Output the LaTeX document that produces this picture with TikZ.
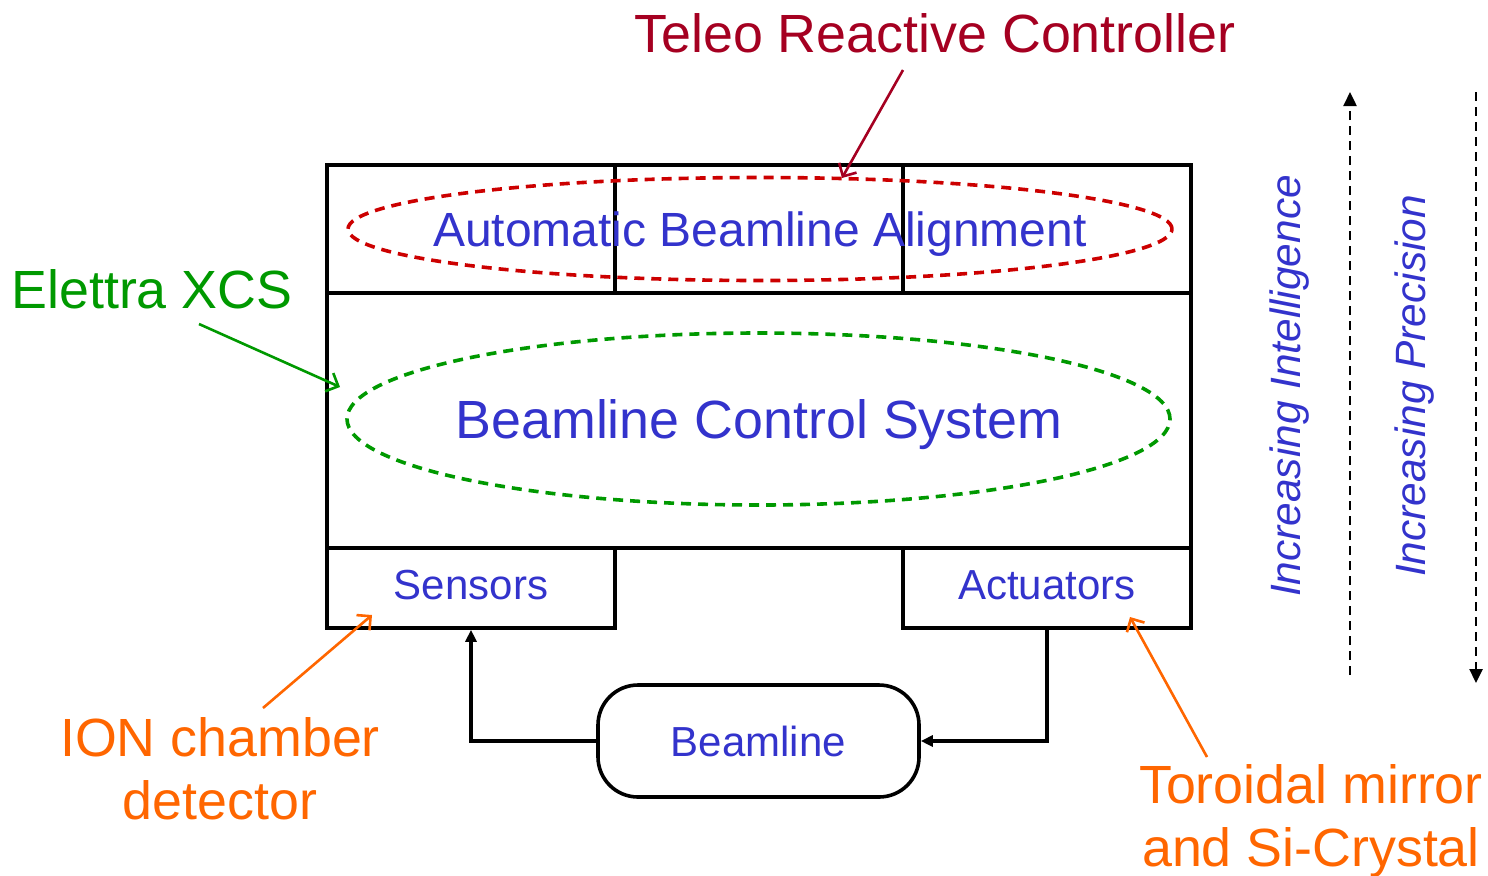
\documentclass[tikz,border=0pt]{standalone}
\usepackage{fontspec}
\setmainfont{Liberation Sans}
\usetikzlibrary{arrows.meta,shapes.geometric}
\definecolor{tblue}{HTML}{3333CC}
\definecolor{tcrim}{HTML}{A50021}
\definecolor{tred}{HTML}{CC0000}
\definecolor{tgreen}{HTML}{009900}
\definecolor{torange}{HTML}{FF6600}
\begin{document}
\begin{tikzpicture}[x=0.5pt,y=-0.5pt,
  cell/.style={draw, line width=1.8pt, inner sep=0pt, minimum width=144pt, minimum height=64pt},
  smallbox/.style={draw, line width=1.8pt, inner sep=0pt, minimum width=144pt, minimum height=40pt, text=tblue, font=\fontsize{21pt}{24pt}\selectfont},
  bigtxt/.style={font=\fontsize{26.9pt}{31pt}\selectfont, inner sep=0pt},
  midtxt/.style={font=\fontsize{24pt}{28pt}\selectfont, inner sep=0pt, text=tblue},
  sidetxt/.style={font=\fontsize{21.2pt}{25pt}\itshape\selectfont, inner sep=0pt, text=tblue, rotate=90},
  oval/.style={draw, ellipse, line width=1.8pt, dash pattern=on 5pt off 3.5pt, inner sep=0pt},
  callout/.style={line width=1.3pt, -{Straight Barb[length=5pt,width=10pt,line width=1.3pt]}},
  flow/.style={line width=1.6pt, -{Triangle[length=6pt,width=5.5pt]}},
  trend/.style={line width=1.2pt, dash pattern=on 4.5pt off 3pt, -{Triangle[length=7pt,width=6.5pt]}}
]
\useasboundingbox (0,0) rectangle (1488,875);

% top row cells
\node[cell] (c1) at (471,229) {};
\node[cell] (c2) at (759,229) {};
\node[cell] (c3) at (1047,229) {};
% middle block
\node[draw, line width=1.8pt, inner sep=0pt, minimum width=432pt, minimum height=127.5pt] (bcs) at (759,420.5) {};
% bottom boxes
\node[smallbox] (sens) at (471,588) {\raisebox{3pt}{Sensors}};
\node[smallbox] (act) at (1047,588) {\raisebox{3pt}{Actuators}};
\node[draw, line width=1.8pt, rounded corners=20pt, inner sep=0pt, minimum width=160.5pt, minimum height=56pt, text=tblue, font=\fontsize{21pt}{24pt}\selectfont] (beam) at (758.5,741) {Beamline};

% ellipses
\node[oval, draw=tred, minimum width=412pt, minimum height=51.5pt] (redov) at (760,229) {};
\node[oval, draw=tgreen, minimum width=411.5pt, minimum height=86pt] (greenov) at (758.5,419) {};

% main texts
\node[midtxt] (aba) at (760,234) {Automatic Beamline Alignment};
\node[bigtxt, text=tblue] (bcstxt) at (759,425) {Beamline Control System};

% labels
\node[bigtxt, text=tcrim] (teleo) at (935,33) {Teleo Reactive Controller};
\node[bigtxt, text=tgreen, anchor=west] (elettra) at (11,289) {Elettra XCS};
\node[bigtxt, text=torange, align=center, font=\fontsize{26.9pt}{31.5pt}\selectfont] (ion) at (220,769) {ION chamber\\detector};
\node[bigtxt, text=torange, align=center, font=\fontsize{26.9pt}{31.5pt}\selectfont] (toro) at (1311,821) {Toroidal mirror\\and Si-Crystal};

% side texts
\node[sidetxt] (intel) at (1290,386) {Increasing Intelligence};
\node[sidetxt] (prec) at (1415,386) {Increasing Precision};

% callout coordinates
\coordinate (teleoS) at (903,70);
\coordinate (teleoE) at (842,178);
\coordinate (elS) at (199,324);
\coordinate (elE) at (340,387);
\coordinate (ionS) at (263,708);
\coordinate (ionE) at (372,615);
\coordinate (toS) at (1207,757);
\coordinate (toE) at (1130,617);

\draw[callout, tcrim] (teleoS) -- (teleoE);
\draw[callout, tgreen] (elS) -- (elE);
\draw[callout, torange] (ionS) -- (ionE);
\draw[callout, torange] (toS) -- (toE);

% flow arrows
\draw[flow] (beam.west) -| (sens.south);
\draw[flow] (act.south) |- (beam.east);

% trend arrows
\coordinate (upS) at (1350,675);
\coordinate (upE) at (1350,92);
\coordinate (dnS) at (1476,92);
\coordinate (dnE) at (1476,683);
\draw[trend] (upS) -- (upE);
\draw[trend] (dnS) -- (dnE);
\end{tikzpicture}
\end{document}
